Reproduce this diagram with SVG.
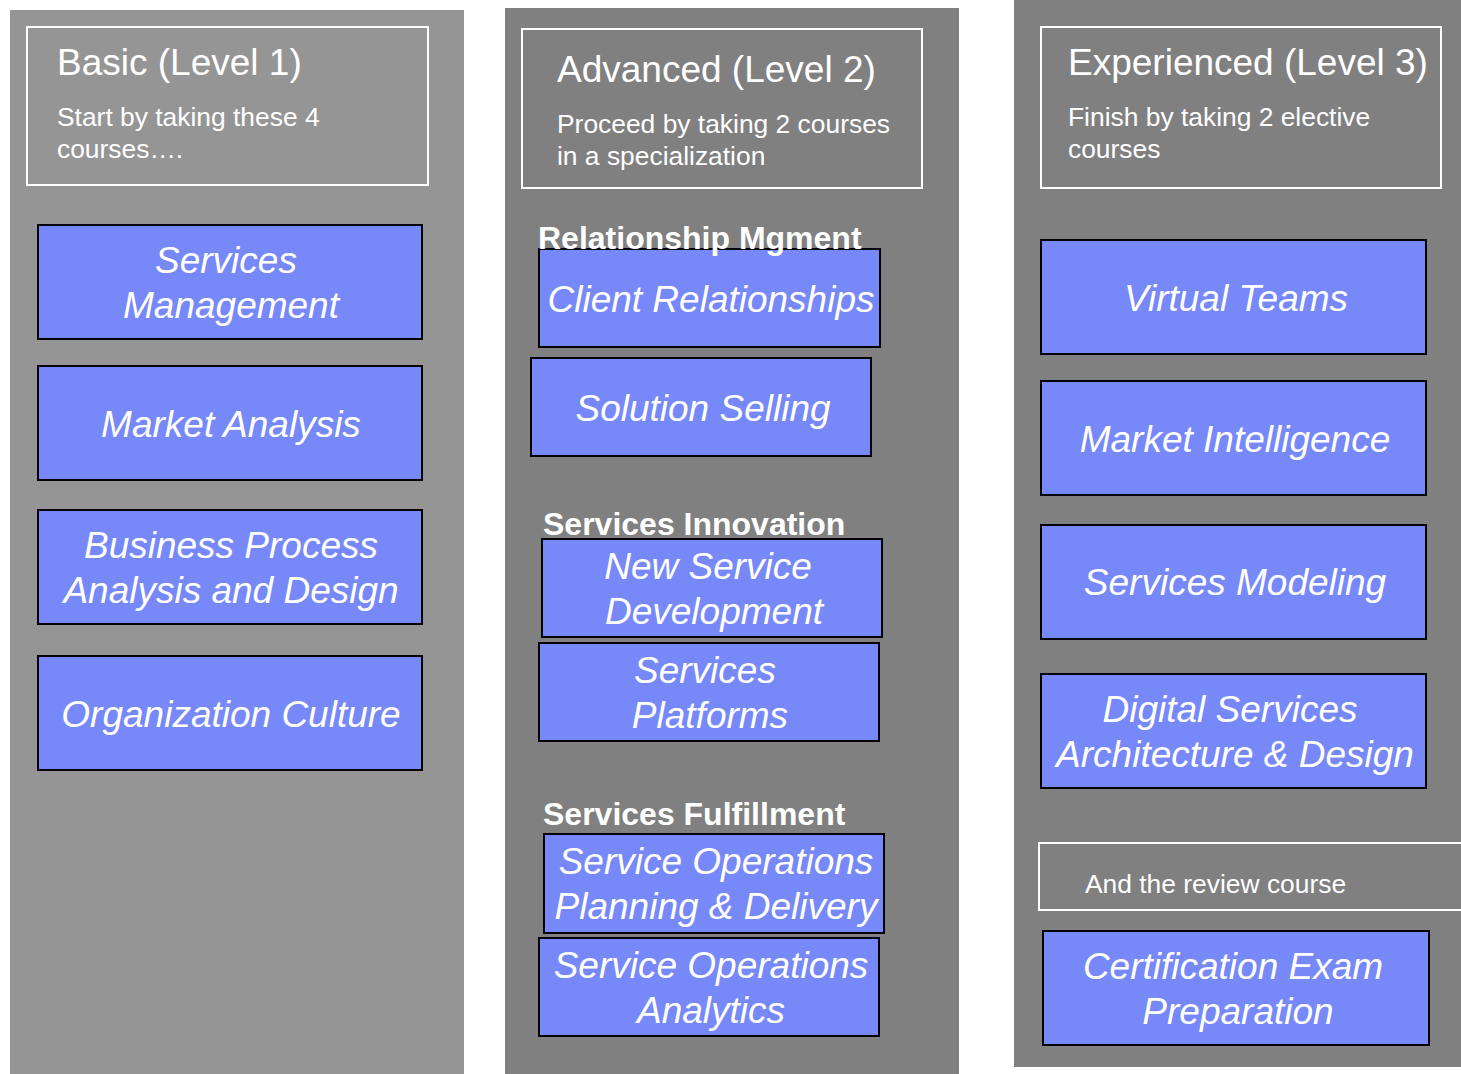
<svg xmlns="http://www.w3.org/2000/svg" width="1461" height="1074" viewBox="0 0 1461 1074">
<style>
text{font-family:"Liberation Sans",Arial,sans-serif;fill:#fff}
.hdr{fill:none;stroke:#fff;stroke-width:2}
.course{fill:#7788f9;stroke:#000;stroke-width:2}
.ct{font-size:37px;font-style:italic;text-anchor:middle}
.title{font-size:37px}
.sub{font-size:26.4px}
.sec{font-size:32px;font-weight:bold}
</style>
<rect width="1461" height="1074" fill="#fff"/>
<g id="level1">
<rect x="10" y="10" width="454" height="1064" fill="#959595"/>
<rect class="hdr" x="27" y="27" width="401" height="158"/>
<text class="title" x="57" y="75">Basic (Level 1)</text>
<text class="sub" x="57" y="126">Start by taking these 4</text>
<text class="sub" x="57" y="158">courses….</text>
</g>
<g id="level2">
<rect x="505" y="8" width="454" height="1066" fill="#808080"/>
<rect class="hdr" x="522" y="29" width="400" height="159"/>
<text class="title" x="557" y="82">Advanced (Level 2)</text>
<text class="sub" x="557" y="133">Proceed by taking 2 courses</text>
<text class="sub" x="557" y="165">in a specialization</text>
</g>
<g id="level3">
<rect x="1014" y="0" width="447" height="1067" fill="#808080"/>
<rect class="hdr" x="1041" y="27" width="400" height="161"/>
<text class="title" x="1068" y="75">Experienced (Level 3)</text>
<text class="sub" x="1068" y="126">Finish by taking 2 elective</text>
<text class="sub" x="1068" y="158">courses</text>
</g>
<g id="review">
<rect class="hdr" x="1039" y="843" width="430" height="67"/>
<text class="sub" x="1085" y="893">And the review course</text>
</g>
<g id="services-management">
<rect class="course" x="38" y="225" width="384" height="114"/>
<text class="ct" x="226" y="273">Services</text>
<text class="ct" x="231" y="318">Management</text>
</g>
<g id="market-analysis">
<rect class="course" x="38" y="366" width="384" height="114"/>
<text class="ct" x="231" y="437">Market Analysis</text>
</g>
<g id="business-process">
<rect class="course" x="38" y="510" width="384" height="114"/>
<text class="ct" x="231" y="558">Business Process</text>
<text class="ct" x="231" y="603">Analysis and Design</text>
</g>
<g id="organization-culture">
<rect class="course" x="38" y="656" width="384" height="114"/>
<text class="ct" x="231" y="727">Organization Culture</text>
</g>
<g id="client-relationships">
<rect class="course" x="539" y="249" width="341" height="98"/>
<text class="ct" x="711" y="312">Client Relationships</text>
</g>
<g id="solution-selling">
<rect class="course" x="531" y="358" width="340" height="98"/>
<text class="ct" x="703" y="421">Solution Selling</text>
</g>
<g id="new-service-development">
<rect class="course" x="542" y="539" width="340" height="98"/>
<text class="ct" x="708" y="579">New Service</text>
<text class="ct" x="714" y="624">Development</text>
</g>
<g id="services-platforms">
<rect class="course" x="539" y="643" width="340" height="98"/>
<text class="ct" x="705" y="683">Services</text>
<text class="ct" x="710" y="728">Platforms</text>
</g>
<g id="service-ops-planning">
<rect class="course" x="544" y="834" width="340" height="99"/>
<text class="ct" x="716" y="874">Service Operations</text>
<text class="ct" x="716" y="919">Planning &amp; Delivery</text>
</g>
<g id="service-ops-analytics">
<rect class="course" x="539" y="938" width="340" height="98"/>
<text class="ct" x="711" y="978">Service Operations</text>
<text class="ct" x="711" y="1023">Analytics</text>
</g>
<g id="virtual-teams">
<rect class="course" x="1041" y="240" width="385" height="114"/>
<text class="ct" x="1236" y="311">Virtual Teams</text>
</g>
<g id="market-intelligence">
<rect class="course" x="1041" y="381" width="385" height="114"/>
<text class="ct" x="1235" y="452">Market Intelligence</text>
</g>
<g id="services-modeling">
<rect class="course" x="1041" y="525" width="385" height="114"/>
<text class="ct" x="1235" y="595">Services Modeling</text>
</g>
<g id="digital-services">
<rect class="course" x="1041" y="674" width="385" height="114"/>
<text class="ct" x="1230" y="722">Digital Services</text>
<text class="ct" x="1235" y="767">Architecture &amp; Design</text>
</g>
<g id="certification-exam">
<rect class="course" x="1043" y="931" width="386" height="114"/>
<text class="ct" x="1233" y="979">Certification Exam</text>
<text class="ct" x="1238" y="1024">Preparation</text>
</g>
<g id="section-labels">
<text class="sec" x="538" y="249">Relationship Mgment</text>
<text class="sec" x="543" y="535">Services Innovation</text>
<text class="sec" x="543" y="825">Services Fulfillment</text>
</g>
<g id="connectors"/>
</svg>
